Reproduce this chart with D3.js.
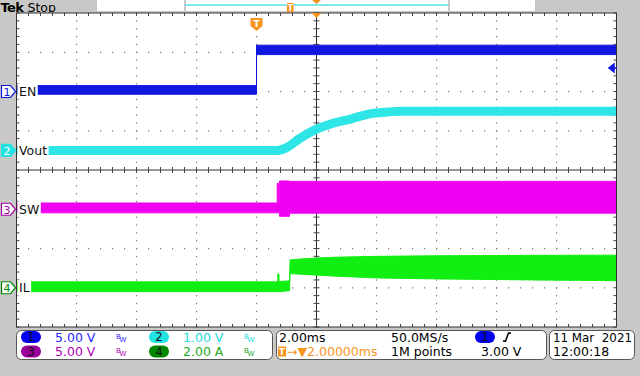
<!DOCTYPE html>
<html>
<head>
<meta charset="utf-8">
<script src="https://cdn.jsdelivr.net/npm/d3@7"></script>
<style>
body { margin:0; background:#c8c8c8; }
svg { display:block; font-family:"DejaVu Sans", sans-serif; }
</style>
</head>
<body>
<script>
/////////////////////////////////////
///      DATA  (time in ms, trigger at 0)
/////////////////////////////////////
var timeDomain = [-8, 12];          // 10 div x 2.00ms

// CH1 EN (V) - noise envelope
var enT     = [-8, 0, 0, 12];
var enUpper = [0.75, 0.75, 5.9, 5.9];
var enLower = [-0.35, -0.35, 4.7, 4.7];

// CH2 Vout (V) - mean trace
var voutT = [-8, 0.7, 1.0, 1.43, 2.0, 2.5, 3.1, 3.5, 3.93, 4.4, 4.8, 6, 12];
var voutV = [0, 0, 0.07, 0.3, 0.54, 0.68, 0.79, 0.88, 0.95, 0.98, 1.0, 1.0, 1.0];

// CH3 SW (V) - switching envelope
var swT     = [-8, 0.69, 0.69, 0.73, 0.73, 0.77, 0.77, 1.1, 1.1, 12];
var swUpper = [0.8, 0.8, 3.3, 3.3, 0.8, 0.8, 3.6, 3.6, 3.55, 3.55];
var swLower = [-0.45, -0.45, -0.45, -0.45, -0.45, -0.45, -0.9, -0.9, -0.5, -0.5];

// CH4 IL (A) - ripple envelope
var ilT     = [-8, 0.71, 0.71, 0.75, 0.75, 1.1, 1.12, 1.6, 2.5, 4, 6, 9, 12];
var ilUpper = [0.3, 0.3, 0.7, 0.7, 0.32, 0.35, 1.42, 1.48, 1.55, 1.6, 1.63, 1.65, 1.66];
var ilLower = [-0.2, -0.2, -0.2, -0.2, -0.2, -0.15, 0.72, 0.68, 0.6, 0.5, 0.45, 0.4, 0.36];

// channel readouts
var chNames  = ["EN", "Vout", "SW", "IL"];
var chScales = ["5.00 V", "1.00 V", "5.00 V", "2.00 A"];
var chPerDiv = [5, 1, 5, 2];
var chGround = [2, 0.5, -1, -3];     // divisions above centre
var timebase = "2.00ms", sampleRate = "50.0MS/s", recLen = "1M points";
var trigDelay = "2.00000ms", trigLevel = "3.00 V";
var dateText = "11 Mar  2021", timeText = "12:00:18";

/////////////////////////////////////
///      LAYOUT
/////////////////////////////////////
var width = 640, height = 376;
var plot = {left:16.5, right:616.5, top:13, bottom:327};
var divH = (plot.bottom - plot.top) / 8, divW = (plot.right - plot.left) / 10;
var cy = (plot.top + plot.bottom) / 2, cx = (plot.left + plot.right) / 2;

var colTrace = ["#1018e0", "#2ee6e6", "#f000f0", "#11ee11"];
var colText  = ["#2a2aff", "#22d8d8", "#b000b0", "#1faa1f"];
var colPill  = ["#0000ee", "#22e2e2", "#990099", "#008800"];
var orange = "#f7941d";

var x = d3.scaleLinear().domain(timeDomain).range([plot.left, plot.right]);
function yCh(i) {
  var u = chPerDiv[i], p = chGround[i];
  return d3.scaleLinear().domain([(-4 - p) * u, (4 - p) * u]).range([plot.bottom, plot.top]);
}
var ys = [0,1,2,3].map(yCh);

var svg = d3.select("body").append("svg").attr("width", width).attr("height", height);

// header
svg.append("text").attr("x", 0.5).attr("y", 11.5).attr("font-weight", "bold")
   .attr("font-size", 13).attr("letter-spacing", -0.6).text("Tek");
svg.append("text").attr("x", 27.5).attr("y", 11.5).attr("font-size", 12.5).text("Stop");
svg.append("rect").attr("x", 97).attr("y", 0).attr("width", 438).attr("height", 11)
   .attr("fill", "#fff");
svg.append("line").attr("x1", 185).attr("x2", 449).attr("y1", 5).attr("y2", 5)
   .attr("stroke", "#7fe9ea").attr("stroke-width", 2);
[185, 449].forEach(function(v){
  svg.append("line").attr("x1", v).attr("x2", v).attr("y1", 0).attr("y2", 11)
     .attr("stroke", "#999");
});
svg.append("rect").attr("x", 287).attr("y", 3).attr("width", 6.5).attr("height", 9)
   .attr("fill", orange);
svg.append("text").attr("x", 290.2).attr("y", 10.5).attr("text-anchor", "middle")
   .attr("font-size", 8).attr("fill", "#fff").attr("font-weight", "bold").text("T");
svg.append("path").attr("d", "M312,0 L321,0 L316.5,4 Z").attr("fill", orange);

// plot area
svg.append("rect").attr("x", plot.left).attr("y", plot.top)
   .attr("width", plot.right - plot.left).attr("height", plot.bottom - plot.top)
   .attr("fill", "#fff");

var grid = svg.append("g");
var dots = [];
d3.range(1, 10).forEach(function(i){
  d3.range(0, 41).forEach(function(k){
    dots.push([plot.left + i * divW, plot.top + k * divH / 5]);
  });
});
d3.range(1, 8).forEach(function(j){
  d3.range(0, 51).forEach(function(k){
    dots.push([plot.left + k * divW / 5, plot.top + j * divH]);
  });
});
grid.selectAll("rect.dot").data(dots).enter().append("rect").attr("class", "dot")
   .attr("x", function(d){ return d[0] - 0.5; }).attr("y", function(d){ return d[1] - 0.5; })
   .attr("width", 1.2).attr("height", 1.2).attr("fill", "#777");

// centre cross + border ticks
grid.append("line").attr("x1", cx).attr("x2", cx).attr("y1", plot.top).attr("y2", plot.bottom)
   .attr("stroke", "#333");
grid.append("line").attr("x1", plot.left).attr("x2", plot.right).attr("y1", cy).attr("y2", cy)
   .attr("stroke", "#333");
d3.range(0, 41).forEach(function(k){
  var yy = plot.top + k * divH / 5;
  grid.append("line").attr("x1", cx - 3).attr("x2", cx + 3).attr("y1", yy).attr("y2", yy).attr("stroke", "#444");
  grid.append("line").attr("x1", plot.left).attr("x2", plot.left + 3).attr("y1", yy).attr("y2", yy).attr("stroke", "#444");
  grid.append("line").attr("x1", plot.right - 3).attr("x2", plot.right).attr("y1", yy).attr("y2", yy).attr("stroke", "#444");
});
d3.range(0, 51).forEach(function(k){
  var xx = plot.left + k * divW / 5;
  grid.append("line").attr("x1", xx).attr("x2", xx).attr("y1", cy - 3).attr("y2", cy + 3).attr("stroke", "#444");
  grid.append("line").attr("x1", xx).attr("x2", xx).attr("y1", plot.top).attr("y2", plot.top + 3).attr("stroke", "#444");
  grid.append("line").attr("x1", xx).attr("x2", xx).attr("y1", plot.bottom - 3).attr("y2", plot.bottom).attr("stroke", "#444");
});

/////////////////////////////////////
///      TRACES
/////////////////////////////////////
function drawBand(i, t, up, lo) {
  var d = t.map(function(v, k){ return {t:v, u:up[k], l:lo[k]}; });
  var area = d3.area().x(function(p){ return x(p.t); })
      .y0(function(p){ return ys[i](p.l); }).y1(function(p){ return ys[i](p.u); });
  svg.append("path").datum(d).attr("d", area).attr("fill", colTrace[i])
     .attr("stroke", colTrace[i]).attr("stroke-width", 1);
}
drawBand(0, enT, enUpper, enLower);
var voutLine = d3.line().x(function(d){ return x(d.t); }).y(function(d){ return ys[1](d.v); })
    .curve(d3.curveMonotoneX);
svg.append("path").datum(voutT.map(function(v, k){ return {t:v, v:voutV[k]}; }))
   .attr("d", voutLine).attr("fill", "none").attr("stroke", colTrace[1]).attr("stroke-width", 9);
drawBand(2, swT, swUpper, swLower);
drawBand(3, ilT, ilUpper, ilLower);

// border on top of traces
svg.append("rect").attr("x", plot.left).attr("y", plot.top)
   .attr("width", plot.right - plot.left).attr("height", plot.bottom - plot.top)
   .attr("fill", "none").attr("stroke", "#333");

// trigger markers
svg.append("path").attr("d", "M" + (x(0) - 6) + ",18 h12 v8 l-6,5 l-6,-5 Z").attr("fill", orange);
svg.append("text").attr("x", x(0)).attr("y", 27).attr("text-anchor", "middle")
   .attr("font-size", 9).attr("font-weight", "bold").attr("fill", "#fff").text("T");
svg.append("path").attr("d", "M" + (cx - 5) + "," + plot.top + " h10 l-5,5 Z").attr("fill", orange);
var tl = ys[0](3);
svg.append("path").attr("d", "M609," + tl + " l5,-4 v8 Z M613," + tl + " h4")
   .attr("fill", colTrace[0]).attr("stroke", colTrace[0]).attr("stroke-width", 1.5);

// ground markers and labels (label sits on a white patch over the trace)
var markerFill = ["#fff", "#22e2e2", "#fff", "#fff"];
var markerNum  = [colTrace[0], "#fff", "#a000a0", "#008800"];
chNames.forEach(function(name, i){
  var g0 = ys[i](0);
  svg.append("path").attr("d", "M1.5," + (g0 - 6) + " h9 l5,6 l-5,6 h-9 Z")
     .attr("fill", markerFill[i]).attr("stroke", i == 1 ? "#22e2e2" : markerNum[i]).attr("stroke-width", 1.2);
  svg.append("text").attr("x", 7).attr("y", g0 + 4.5).attr("text-anchor", "middle")
     .attr("font-size", 11).attr("fill", markerNum[i]).text(i + 1);
  var bg = svg.append("rect").attr("x", plot.left + 1).attr("y", g0 - 8).attr("height", 16)
     .attr("fill", "#fff");
  var lab = svg.append("text").attr("x", 19).attr("y", g0 + 4.6).attr("font-size", 12.5)
     .attr("fill", "#111").text(name);
  bg.attr("width", 19 + lab.node().getComputedTextLength() + 1.5 - plot.left - 1);
});

/////////////////////////////////////
///      READOUT PANELS
/////////////////////////////////////
function panel(x0, x1) {
  svg.append("rect").attr("x", x0).attr("y", 330.5).attr("width", x1 - x0).attr("height", 29)
     .attr("rx", 5).attr("fill", "#fff").attr("stroke", "#555");
}
panel(16.5, 272.5); panel(276.5, 546.5); panel(549.5, 634.5);

var rowY = [341.6, 356];
chScales.forEach(function(s, i){
  var r = i < 2 ? 0 : 1, px = (i % 2 == 0) ? 21 : 149;
  svg.append("rect").attr("x", px).attr("y", rowY[r] - 10.5).attr("width", 20).attr("height", 12)
     .attr("rx", 6).attr("fill", colPill[i]);
  svg.append("text").attr("x", px + 10).attr("y", rowY[r] - 0.5).attr("text-anchor", "middle")
     .attr("font-size", 11.5).attr("fill", "#111").text(i + 1);
  svg.append("text").attr("x", px + 34).attr("y", rowY[r]).attr("font-size", 12.5)
     .attr("fill", colText[i]).text(s);
  var bw = svg.append("text").attr("x", px + 95).attr("y", rowY[r] - 3).attr("font-size", 7)
     .attr("fill", colText[i]);
  bw.append("tspan").text("B");
  bw.append("tspan").attr("dy", 3).attr("dx", -1).text("W");
});

svg.append("text").attr("x", 279).attr("y", rowY[0]).attr("font-size", 12.5).text(timebase);
svg.append("text").attr("x", 391).attr("y", rowY[0]).attr("font-size", 12.5).text(sampleRate);
svg.append("text").attr("x", 391).attr("y", rowY[1]).attr("font-size", 12.5).text(recLen);
svg.append("rect").attr("x", 475).attr("y", rowY[0] - 10.5).attr("width", 20).attr("height", 12)
   .attr("rx", 6).attr("fill", colPill[0]);
svg.append("text").attr("x", 485).attr("y", rowY[0] - 0.5).attr("text-anchor", "middle")
   .attr("font-size", 11.5).attr("fill", "#111").text("1");
svg.append("path").attr("d", "M503," + (rowY[0] - 0.5) + " h2.5 l3,-8 h2.5")
   .attr("fill", "none").attr("stroke", "#111").attr("stroke-width", 1.6);
svg.append("text").attr("x", 481).attr("y", rowY[1]).attr("font-size", 12.5).text(trigLevel);

svg.append("rect").attr("x", 278).attr("y", rowY[1] - 9.5).attr("width", 8).attr("height", 10)
   .attr("fill", orange);
svg.append("text").attr("x", 282).attr("y", rowY[1] - 1).attr("text-anchor", "middle")
   .attr("font-size", 8.5).attr("font-weight", "bold").attr("fill", "#fff").text("T");
svg.append("text").attr("x", 287).attr("y", rowY[1]).attr("font-size", 12.5).attr("fill", orange)
   .text("\u2192\u25BC" + trigDelay);

svg.append("text").attr("x", 553).attr("y", rowY[0]).attr("font-size", 12.5)
   .attr("textLength", 79).attr("lengthAdjust", "spacingAndGlyphs")
   .style("white-space", "pre").text(dateText);
svg.append("text").attr("x", 553).attr("y", rowY[1]).attr("font-size", 12.5).text(timeText);
</script>
</body>
</html>
